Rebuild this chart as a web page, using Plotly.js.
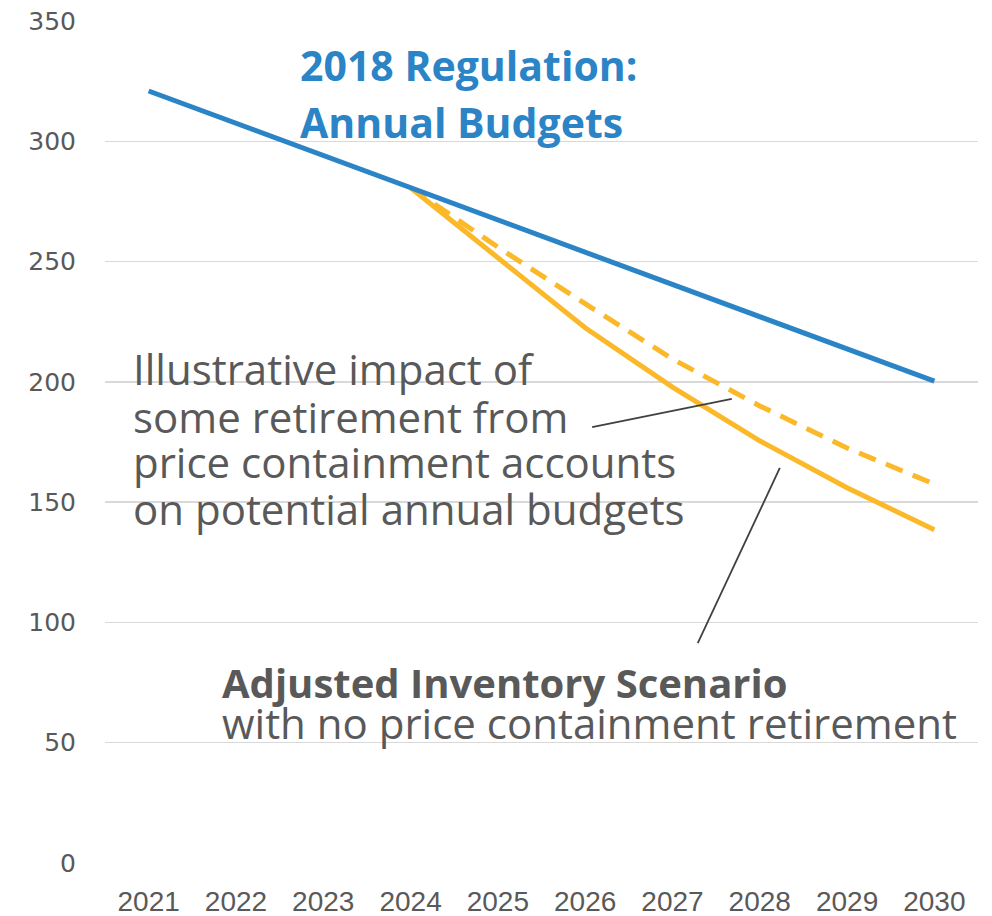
<!DOCTYPE html>
<html>
<head>
<meta charset="utf-8">
<script src="https://cdn.plot.ly/plotly-3.0.1.min.js"></script>
<style>html,body{margin:0;padding:0;background:#fff;}#chart{width:992px;height:916px;}</style>
</head>
<body>
<div id="chart"></div>
<script>
const years = ["2021","2022","2023","2024","2025","2026","2027","2028","2029","2030"];
const regulationBudgets = [320.9, 307.5, 294.1, 280.7, 267.4, 253.9, 240.6, 227.1, 213.7, 200.3];
const adjustedInventory = [null, null, null, 280.7, 251.5, 222.5, 197.8, 175.5, 156.0, 138.5];
const illustrativeRetirement = [null, null, null, 280.7, 256.0, 232.5, 209.5, 190.0, 172.5, 157.5];
const yTicks = [0, 50, 100, 150, 200, 250, 300, 350];

const blue = "#2A84C6";
const orange = "#FBB829";
const grey = "#595959";

const traces = [
  {x: years, y: adjustedInventory, type: "scatter", mode: "lines",
   line: {color: orange, width: 5}, hoverinfo: "skip", connectgaps: false},
  {x: years, y: illustrativeRetirement, type: "scatter", mode: "lines",
   line: {color: orange, width: 5, dash: "18px,11px"}, hoverinfo: "skip", connectgaps: false},
  {x: years, y: regulationBudgets, type: "scatter", mode: "lines",
   line: {color: blue, width: 5}, hoverinfo: "skip"}
];

const txtFont = "'Open Sans', Lato, sans-serif";
function note(text, xp, yv, size, color, bold) {
  return {xref: "paper", yref: "y", x: xp, y: yv, xanchor: "left", yanchor: "middle",
    text: bold ? "<b>" + text + "</b>" : text, showarrow: false, borderpad: 0,
    font: {family: txtFont, size: size, color: color}};
}

const annotations = [
  note("2018 Regulation:", 0.222, 331.7, 41, blue, true),
  note("Annual Budgets", 0.222, 308.0, 41, blue, true),
  note("Illustrative impact of", 0.031, 205.7, 42, grey, false),
  note("some retirement from", 0.031, 185.8, 42, grey, false),
  note("price containment accounts", 0.031, 166.7, 42, grey, false),
  note("on potential annual budgets", 0.031, 147.5, 42, grey, false),
  note("Adjusted Inventory Scenario", 0.133, 75.2, 40, grey, true),
  note("with no price containment retirement", 0.133, 58.2, 42, grey, false)
];

const shapes = [
  {type: "line", xref: "x", yref: "y", x0: 5.08, y0: 181.2, x1: 6.68, y1: 192.9,
   line: {color: "#404040", width: 1.8}},
  {type: "line", xref: "x", yref: "y", x0: 6.29, y0: 91.4, x1: 7.23, y1: 164.2,
   line: {color: "#404040", width: 1.8}}
];

const layout = {
  width: 992, height: 916,
  margin: {l: 105, r: 14, t: 21, b: 53},
  paper_bgcolor: "#fff", plot_bgcolor: "#fff",
  showlegend: false,
  xaxis: {type: "category", range: [-0.5, 9.5], showgrid: false, zeroline: false,
    showline: false, ticks: "", ticklabelstandoff: 19,
    tickfont: {family: "'Liberation Sans', Arial, sans-serif", size: 28, color: grey}},
  yaxis: {range: [0, 350], tickvals: yTicks, ticktext: yTicks.map(String),
    showgrid: true, gridcolor: "#D9D9D9", gridwidth: 1.5, zeroline: false,
    showline: false, ticks: "", ticklabelstandoff: 28,
    tickfont: {family: "'DejaVu Sans', sans-serif", size: 25, color: grey}},
  annotations: annotations,
  shapes: shapes
};

Plotly.newPlot("chart", traces, layout, {staticPlot: true, displayModeBar: false});
</script>
</body>
</html>
